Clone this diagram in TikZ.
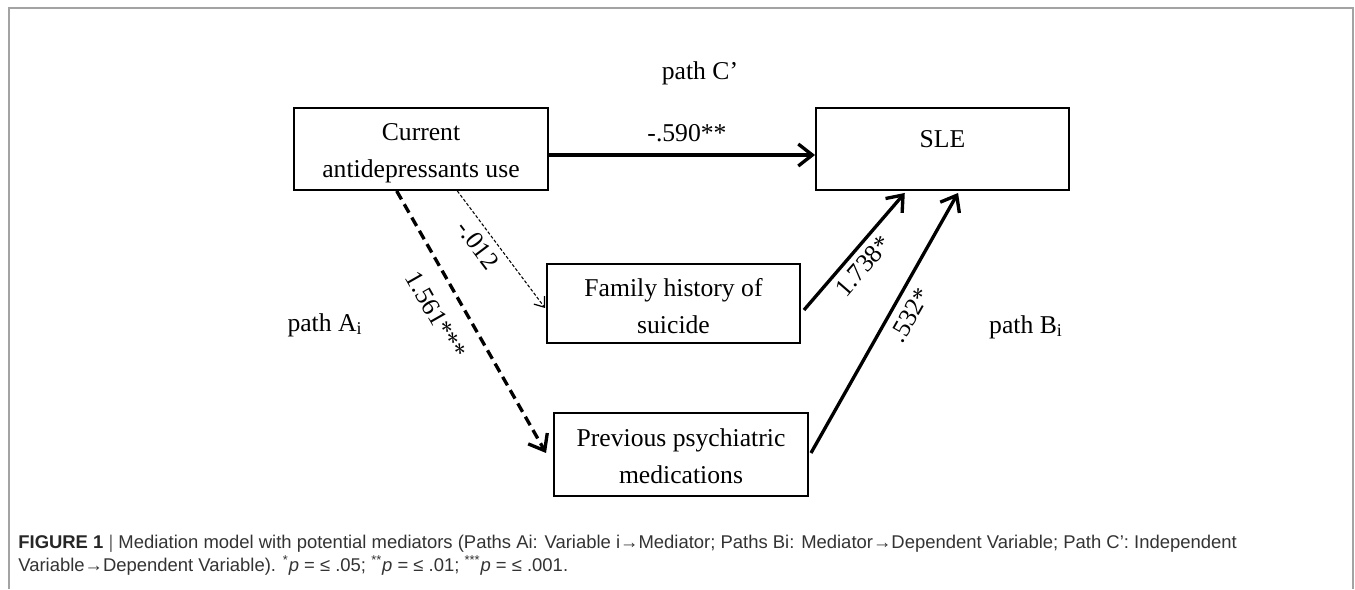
\documentclass[tikz,border=0pt]{standalone}
\usepackage{fontspec}
\setmainfont{Liberation Serif}
\newfontfamily\capfont{Liberation Sans}
\usetikzlibrary{arrows.meta,calc}
\newdimen\px
\px=0.02cm
\definecolor{framegray}{HTML}{A3A3A3}
\definecolor{captext}{HTML}{333333}
\tikzset{
  box/.style={draw, line width=1.1pt, align=center, inner sep=0pt,
    font=\fontsize{14.6}{21}\selectfont},
  lbl/.style={font=\fontsize{14.6}{21}\selectfont, inner sep=0pt},
  thickarrow/.style={line width=1.9pt, -{Straight Barb[length=8pt,width=12.5pt]}},
  dasharrow/.style={thickarrow, dash pattern=on 5.5pt off 3.2pt},
  thinarrow/.style={line width=0.6pt, dash pattern=on 1.8pt off 1.1pt,
    -{Straight Barb[length=5pt,width=7.5pt,line width=0.7pt]}},
  capline/.style={anchor=base west, inner sep=0pt, text=captext,
    font=\capfont\fontsize{10.5}{13}\selectfont},
}
\begin{document}
\begin{tikzpicture}[x=0.02cm, y=-0.02cm]
\useasboundingbox (0,0) rectangle (1355,589);
% frame
\draw[framegray, line width=0.9pt] (9,589) -- (9,8) -- (1353,8) -- (1353,589);

% boxes
\node[box, minimum width=254*\px, minimum height=82*\px] (cur) at (421,149)
  {\rule{0pt}{14.6pt}Current\\antidepressants use};
\node[box, minimum width=253*\px, minimum height=82*\px,
  text height=10pt, text depth=11.7pt] (sle) at (942.5,149) {SLE};
\node[box, minimum width=253*\px, minimum height=79*\px] (fam) at (673.5,303.5)
  {\rule{0pt}{13.4pt}Family history of\\suicide};
\node[box, minimum width=254*\px, minimum height=83*\px] (prev) at (681,454.5)
  {\rule{0pt}{12.3pt}Previous psychiatric\\medications};

% connectors
\draw[thickarrow] ($(cur.east)+(0,6)$) -- ($(sle.west)+(0,6)$);
\draw[thinarrow] ($(cur.south west)!0.642!(cur.south east)$) -- ($(fam.west)+(-1,4.5)$);
\draw[dasharrow] ($(cur.south west)!0.405!(cur.south east)$) -- ($(prev.west)+(-7,-1.5)$);
\draw[thickarrow] ($(fam.east)+(3,6.5)$) -- ($(sle.south west)!0.352!(sle.south east)+(0,2)$);
\draw[thickarrow] ($(prev.east)+(2,-1.5)$) -- ($(sle.south west)!0.561!(sle.south east)+(0,2)$);

% labels
\node[lbl] (pc) at (700,73) {path C’};
\node[lbl] (l590) at (687,133) {-.590**};
\node[lbl, rotate=-53] (l012) at (478,245) {-.012};
\node[lbl, rotate=-60.3] (l561) at (436,315) {1.561***};
\node[lbl, rotate=49] (l738) at (863,266) {1.738*};
\node[lbl, rotate=60.4] (l532) at (910,315) {.532*};
\node[lbl] (pa) at (325,325) {path A\textsubscript{i}};
\node[lbl] (pb) at (1026,327) {path B\textsubscript{i}};

% caption
\node[capline] (cap1) at (18,548) {\textbf{\color{black!85}FIGURE 1} {\color{black!60}|} Mediation model with potential mediators (Paths Ai: Variable i→Mediator; Paths Bi: Mediator→Dependent Variable; Path C’: Independent};
\node[capline] (cap2) at (18,571) {Variable→Dependent Variable). \textsuperscript{*}\textit{p} = ≤ .05; \textsuperscript{**}\textit{p} = ≤ .01; \textsuperscript{***}\textit{p} = ≤ .001.};
\end{tikzpicture}
\end{document}
